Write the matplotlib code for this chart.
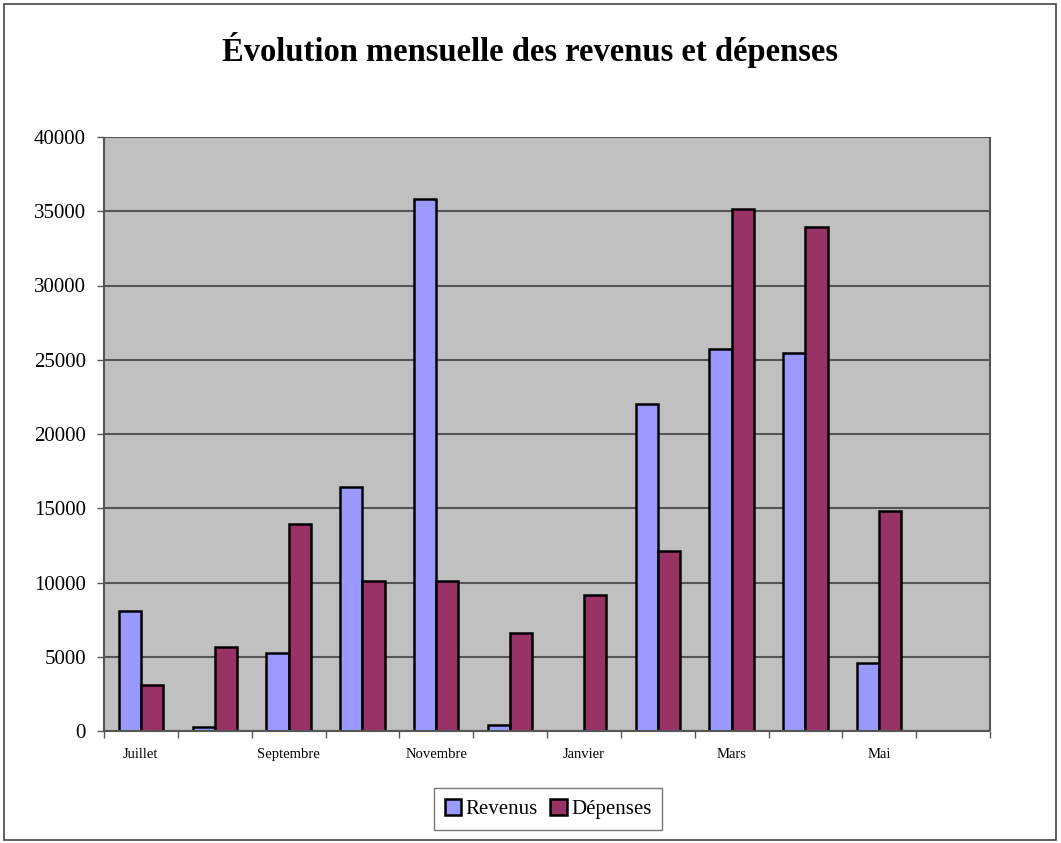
import matplotlib.pyplot as plt
import numpy as np
from matplotlib.patches import Rectangle

mois = ['Juillet', 'Août', 'Septembre', 'Octobre', 'Novembre', 'Décembre',
        'Janvier', 'Février', 'Mars', 'Avril', 'Mai', 'Juin']
revenus = [8080, 270, 5240, 16460, 35830, 400, 0, 22030, 25700, 25450, 4580, 0]
depenses = [3100, 5650, 13920, 10100, 10100, 6600, 9190, 12115, 35150, 33940, 14840, 0]

plt.rcParams['font.family'] = ['Liberation Serif', 'DejaVu Serif']

fig = plt.figure(figsize=(10.61, 8.43), dpi=100)
ax = fig.add_axes([104 / 1061, 1 - 731 / 843, 886 / 1061, 594 / 843])

x = np.arange(len(mois))
w = 0.3
ax.set_facecolor('#c0c0c0')
ax.yaxis.grid(True, color='#555555', linewidth=1.5)
ax.set_axisbelow(True)
ax.bar(x - w / 2, revenus, w, color='#9999ff', edgecolor='black', linewidth=1.8, label='Revenus')
ax.bar(x + w / 2, depenses, w, color='#993366', edgecolor='black', linewidth=1.8, label='Dépenses')

ax.set_xlim(-0.5, len(mois) - 0.5)
ax.set_ylim(0, 40000)
ax.set_yticks(range(0, 40001, 5000))
ax.tick_params(axis='y', labelsize=15, length=5, width=1, color='#555555', pad=8)

ax.set_xticks(x[::2])
ax.set_xticklabels(mois[::2], fontsize=10.5)
ax.set_xticks(np.arange(-0.5, len(mois), 1), minor=True)
ax.tick_params(axis='x', which='major', length=0, pad=12)
ax.tick_params(axis='x', which='minor', length=5, width=1, color='#555555')

for s in ['left', 'bottom', 'right']:
    ax.spines[s].set_color('#555555')
    ax.spines[s].set_linewidth(1.5)
    ax.spines[s].set_capstyle('butt')
ax.spines['top'].set_visible(False)

fig.text(0.5, 1 - 50 / 843, 'Évolution mensuelle des revenus et dépenses',
         ha='center', va='center', fontsize=23.5, fontweight='bold')

leg = fig.legend(loc='center', bbox_to_anchor=(548 / 1061, 1 - 809 / 843), ncol=2,
                 fontsize=15, frameon=True, fancybox=False, edgecolor='#555555',
                 handlelength=0.8, handleheight=0.8, handletextpad=0.2,
                 columnspacing=0.6, borderpad=0.5, borderaxespad=0)
leg.get_frame().set_linewidth(1)

fig.patches.append(Rectangle((4 / 1061, 3 / 843), 1052 / 1061, 836 / 843,
                             transform=fig.transFigure, fill=False,
                             edgecolor='#444444', linewidth=1.2))

fig.savefig('out.png', dpi=100)
